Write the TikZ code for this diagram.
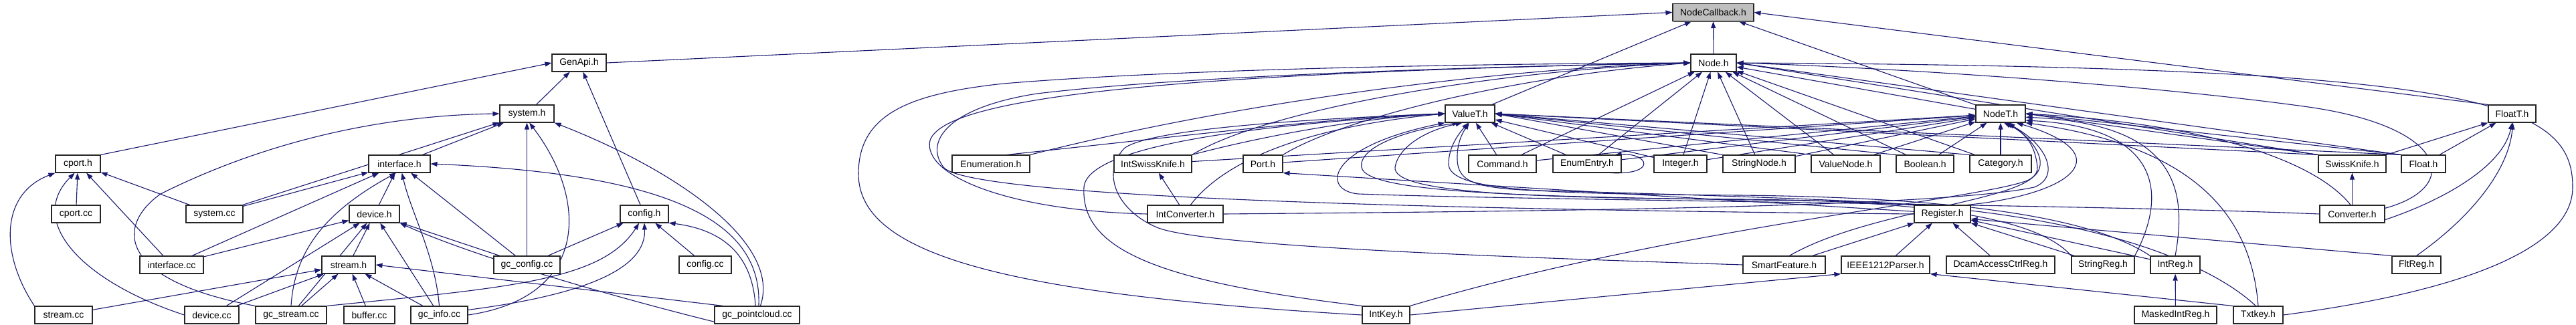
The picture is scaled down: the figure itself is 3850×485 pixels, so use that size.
\documentclass[tikz,border=0pt]{standalone}
\usepackage{fontspec}
\setmainfont{Liberation Sans}
\usetikzlibrary{arrows.meta,shadows}
\definecolor{edgec}{HTML}{191970}
\definecolor{rootfill}{HTML}{BFBFBF}
\pgfdeclarelayer{back}
\pgfdeclarelayer{bg}
\pgfsetlayers{back,bg,main}
\tikzset{
  box/.style={draw=black!85, line width=1.1pt, fill=white, minimum height=26pt, inner sep=0pt,
    font=\fontsize{14}{16}\selectfont,
    drop shadow={shadow xshift=1.4pt, shadow yshift=-1.4pt, fill=black!60, opacity=1}},
  dep/.style={draw=edgec, line width=1.1pt, -{Triangle[length=10pt,width=7pt]}},
}
\begin{document}
\begin{tikzpicture}[x=1pt,y=-1pt]
\begin{pgfonlayer}{back}
\fill[white] (0,0) rectangle (3850,485);
\end{pgfonlayer}
\useasboundingbox (0,0) rectangle (3850,485);
% row 0
\node[box, fill=rootfill, minimum width=121pt] (nodecallback) at (2560.5,18.5) {NodeCallback.h};
% row 1
\node[box, minimum width=81pt] (genapi) at (865.5,94) {GenApi.h};
\node[box, minimum width=68pt] (nodeh) at (2561,94) {Node.h};
% row 2
\node[box, minimum width=81pt] (systemh) at (787.5,170) {system.h};
\node[box, minimum width=74pt] (valueth) at (2197,170) {ValueT.h};
\node[box, minimum width=74pt] (nodeth) at (2990,170) {NodeT.h};
\node[box, minimum width=71pt] (floatth) at (3754.5,170) {FloatT.h};
% row 3
\node[box, minimum width=67pt] (cporth) at (116.5,245) {cport.h};
\node[box, minimum width=92pt] (interfaceh) at (597,245) {interface.h};
\node[box, minimum width=116pt] (enumeration) at (1481,245) {Enumeration.h};
\node[box, minimum width=116pt] (intswissknife) at (1723,245) {IntSwissKnife.h};
\node[box, minimum width=59pt] (porth) at (1887.5,245) {Port.h};
\node[box, minimum width=101pt] (commandh) at (2245.5,245) {Command.h};
\node[box, minimum width=102pt] (enumentry) at (2372,245) {EnumEntry.h};
\node[box, minimum width=79pt] (integer) at (2511.5,245) {Integer.h};
\node[box, minimum width=108pt] (stringnode) at (2629,245) {StringNode.h};
\node[box, minimum width=103pt] (valuenode) at (2758.5,245) {ValueNode.h};
\node[box, minimum width=86pt] (boolean) at (2877,245) {Boolean.h};
\node[box, minimum width=92pt] (category) at (2990,245) {Category.h};
\node[box, minimum width=101pt] (swissknife) at (3515.5,245) {SwissKnife.h};
\node[box, minimum width=66pt] (floath) at (3622,245) {Float.h};
% row 4
\node[box, minimum width=73pt] (cportcc) at (113.5,320) {cport.cc};
\node[box, minimum width=85pt] (systemcc) at (320.5,320) {system.cc};
\node[box, minimum width=75pt] (deviceh) at (559.5,320) {device.h};
\node[box, minimum width=72pt] (configh) at (963,320) {config.h};
\node[box, minimum width=113pt] (intconverter) at (1771.5,320) {IntConverter.h};
\node[box, minimum width=84pt] (register) at (2903,320) {Register.h};
\node[box, minimum width=97pt] (converter) at (3515.5,320) {Converter.h};
% row 5
\node[box, minimum width=95pt] (interfacecc) at (256.5,396) {interface.cc};
\node[box, minimum width=80pt] (streamh) at (521,396) {stream.h};
\node[box, minimum width=99pt] (gcconfig) at (787.5,396) {gc\_config.cc};
\node[box, minimum width=78pt] (configcc) at (1054,396) {config.cc};
\node[box, minimum width=123pt] (smartfeature) at (2666.5,396) {SmartFeature.h};
\node[box, minimum width=132pt] (ieee) at (2818,396) {IEEE1212Parser.h};
\node[box, minimum width=162pt] (dcam) at (2990,396) {DcamAccessCtrlReg.h};
\node[box, minimum width=94pt] (stringreg) at (3143,396) {StringReg.h};
\node[box, minimum width=74pt] (intreg) at (3251,396) {IntReg.h};
\node[box, minimum width=73pt] (fltreg) at (3611.5,396) {FltReg.h};
% row 6
\node[box, minimum width=86pt] (streamcc) at (95,471) {stream.cc};
\node[box, minimum width=81pt] (devicecc) at (316.5,471) {device.cc};
\node[box, minimum width=106pt] (gcstream) at (435,471) {gc\_stream.cc};
\node[box, minimum width=76pt] (buffercc) at (552,471) {buffer.cc};
\node[box, minimum width=85pt] (gcinfo) at (656.5,471) {gc\_info.cc};
\node[box, minimum width=127pt] (gcpc) at (1131.5,471) {gc\_pointcloud.cc};
\node[box, minimum width=71pt] (intkey) at (2071.5,471) {IntKey.h};
\node[box, minimum width=123pt] (maskedintreg) at (3251.5,471) {MaskedIntReg.h};
\node[box, minimum width=74pt] (txtkey) at (3375,471) {Txtkey.h};

\begin{pgfonlayer}{bg}
% ---------------- left part
\draw[dep] (genapi.east) -- (nodecallback.west);
\draw[dep] (systemh) -- (genapi);
\draw[dep] (cporth.north east) -- (genapi.west);
\draw[dep] (configh) -- (genapi);
\draw[dep] (interfaceh) -- (systemh);
\draw[dep] (systemcc) -- (systemh);
\draw[dep] (gcstream.north west) .. controls (180,420) and (170,340) .. (240,290) .. controls (420,200) and (600,172) .. (systemh.west);
\draw[dep] (gcconfig) -- (systemh);
\draw[dep] (gcinfo.east) .. controls (880,445) and (880,300) .. (systemh.-75);
\draw[dep] (gcpc.70) .. controls (1170,360) and (1000,250) .. (systemh.south east);
\draw[dep] (cportcc) -- (cporth);
\draw[dep] (systemcc) -- (cporth);
\draw[dep] (interfacecc) -- (cporth);
\draw[dep] (streamcc.north west) .. controls (0,380) and (0,290) .. (cporth.south west);
\draw[dep] (devicecc.west) .. controls (120,420) and (40,330) .. (cporth.-110);
\draw[dep] (systemcc) -- (interfaceh);
\draw[dep] (interfacecc) -- (interfaceh);
\draw[dep] (deviceh) -- (interfaceh);
\draw[dep] (gcstream.north) .. controls (440,380) and (480,320) .. (interfaceh.-110);
\draw[dep] (gcinfo.north) .. controls (650,380) and (615,320) .. (interfaceh.-75);
\draw[dep] (gcconfig) -- (interfaceh);
\draw[dep] (gcpc.80) .. controls (1140,330) and (1000,260) .. (interfaceh.east);
\draw[dep] (interfacecc) -- (deviceh);
\draw[dep] (streamh) -- (deviceh);
\draw[dep] (devicecc) -- (deviceh);
\draw[dep] (gcstream) -- (deviceh);
\draw[dep] (gcinfo) -- (deviceh);
\draw[dep] (gcconfig) -- (deviceh);
\draw[dep] (gcpc.195) .. controls (900,440) and (700,380) .. (deviceh.south east);
\draw[dep] (streamcc) -- (streamh);
\draw[dep] (devicecc) -- (streamh);
\draw[dep] (gcstream) -- (streamh);
\draw[dep] (buffercc) -- (streamh);
\draw[dep] (gcinfo) -- (streamh);
\draw[dep] (gcpc.165) -- (streamh.east);
\draw[dep] (gcconfig) -- (configh);
\draw[dep] (gcstream.north east) .. controls (760,430) and (900,420) .. (configh.-120);
\draw[dep] (gcinfo.10) .. controls (880,440) and (966,400) .. (configh.south);
\draw[dep] (configcc) -- (configh);
\draw[dep] (gcpc.100) .. controls (1125,390) and (1090,345) .. (configh.-20);
% ---------------- right part
\draw[dep] (nodeh) -- (nodecallback);
\draw[dep] (valueth) -- (nodecallback);
\draw[dep] (nodeth) -- (nodecallback);
\draw[dep] (floatth.north west) -- (nodecallback.east);
% Node.h
\draw[dep] (enumeration.north east) .. controls (1900,140) and (2300,100) .. (nodeh.west);
\draw[dep] (intswissknife.north east) .. controls (1900,160) and (2250,105) .. (nodeh.west);
\draw[dep] (porth.north east) .. controls (2000,180) and (2250,115) .. (nodeh.west);
\draw[dep] (commandh) -- (nodeh);
\draw[dep] (enumentry) -- (nodeh);
\draw[dep] (integer) -- (nodeh);
\draw[dep] (stringnode) -- (nodeh);
\draw[dep] (valuenode) -- (nodeh);
\draw[dep] (boolean) -- (nodeh);
\draw[dep] (category) -- (nodeh);
\draw[dep] (nodeth) -- (nodeh);
\draw[dep] (swissknife.north west) -- (nodeh.east);
\draw[dep] (floath.north west) -- (nodeh.east);
\draw[dep] (converter.10) .. controls (3680,280) and (3660,190) .. (3450,160) .. controls (3200,125) and (2800,100) .. (nodeh.east);
\draw[dep] (intconverter.west) .. controls (1500,315) and (1378,260) .. (1390,210) .. controls (1410,150) and (1700,110) .. (nodeh.west);
\draw[dep] (intkey.west) .. controls (1500,440) and (1283,380) .. (1283,260) .. controls (1283,170) and (1360,140) .. (1500,125) .. controls (1800,100) and (2300,95) .. (nodeh.west);
\draw[dep] (register.west) .. controls (2300,315) and (1450,300) .. (1410,250) .. controls (1380,210) and (1420,160) .. (1550,140) .. controls (1800,110) and (2300,98) .. (nodeh.west);
\draw[dep] (txtkey.east) .. controls (3650,440) and (3845,380) .. (3845,280) .. controls (3845,150) and (3700,100) .. (nodeh.east);
% ValueT.h
\draw[dep] (enumeration.30) .. controls (1800,200) and (2000,175) .. (valueth.west);
\draw[dep] (intswissknife.north east) .. controls (1900,200) and (2050,175) .. (valueth.west);
\draw[dep] (commandh) -- (valueth);
\draw[dep] (enumentry) -- (valueth);
\draw[dep] (integer) -- (valueth);
\draw[dep] (stringnode.north west) -- (valueth.east);
\draw[dep] (valuenode.north west) -- (valueth.east);
\draw[dep] (boolean.north west) -- (valueth.east);
\draw[dep] (category.north west) -- (valueth.east);
\draw[dep] (swissknife.north west) -- (valueth.east);
\draw[dep] (floath.north west) -- (valueth.east);
\draw[dep] (intconverter.60) .. controls (1830,240) and (1950,190) .. (valueth.west);
\draw[dep] (intkey.north west) .. controls (1720,420) and (1615,370) .. (1620,280) .. controls (1625,215) and (1900,185) .. (valueth.west);
\draw[dep] (smartfeature.west) .. controls (2300,386) and (1800,370) .. (1729,340) .. controls (1670,315) and (1645,260) .. (1680,222) .. controls (1720,190) and (2000,176) .. (valueth.west);
\draw[dep] (converter.west) .. controls (3100,305) and (2300,300) .. (2030,290) .. controls (1975,285) and (1980,220) .. (valueth.south west);
\draw[dep] (txtkey.105) .. controls (3300,390) and (3100,305) .. (2700,300) .. controls (2300,295) and (2040,290) .. (2035,250) .. controls (2030,220) and (2100,195) .. (valueth.-140);
\draw[dep] (stringreg.north west) .. controls (3050,330) and (2900,300) .. (2600,298) .. controls (2300,296) and (2080,290) .. (2085,250) .. controls (2090,220) and (2130,195) .. (valueth.-130);
\draw[dep] (intreg.north west) .. controls (3120,320) and (2900,295) .. (2600,292) .. controls (2300,290) and (2165,285) .. (2165,245) .. controls (2165,220) and (2180,200) .. (valueth.-100);
\draw[dep] (register.north west) .. controls (2800,300) and (2500,290) .. (2300,285) .. controls (2200,282) and (2180,270) .. (2178,240) .. controls (2177,215) and (2185,200) .. (valueth.-95);
% NodeT.h
\draw[dep] (intswissknife) -- (nodeth);
\draw[dep] (porth) -- (nodeth);
\draw[dep] (commandh) -- (nodeth);
\draw[dep] (enumentry) -- (nodeth);
\draw[dep] (integer) -- (nodeth);
\draw[dep] (stringnode) -- (nodeth);
\draw[dep] (valuenode) -- (nodeth);
\draw[dep] (boolean) -- (nodeth);
\draw[dep] (category) -- (nodeth);
\draw[dep] (swissknife.north west) -- (nodeth.east);
\draw[dep] (floath.north west) -- (nodeth.east);
\draw[dep] (converter.100) .. controls (3460,240) and (3300,185) .. (nodeth.east);
\draw[dep] (intconverter.east) .. controls (2300,316) and (2900,310) .. (3040,280) .. controls (3080,265) and (3060,215) .. (nodeth.-60);
\draw[dep] (intkey.north east) .. controls (2500,340) and (2950,300) .. (3030,270) .. controls (3070,250) and (3040,210) .. (nodeth.-50);
\draw[dep] (smartfeature.60) .. controls (2800,310) and (3050,300) .. (3045,250) .. controls (3042,220) and (3030,200) .. (nodeth.-70);
\draw[dep] (register.20) .. controls (3100,290) and (3170,230) .. (nodeth.-30);
\draw[dep] (stringreg.north east) .. controls (3240,290) and (3230,190) .. (nodeth.-15);
\draw[dep] (intreg.north) .. controls (3270,280) and (3250,185) .. (nodeth.-8);
\draw[dep] (txtkey.north) .. controls (3365,330) and (3290,220) .. (nodeth.-20);
% others
\draw[dep] (swissknife.north east) -- (floatth.south west);
\draw[dep] (floath) -- (floatth);
\draw[dep] (converter.-10) .. controls (3650,300) and (3740,250) .. (floatth.south);
\draw[dep] (fltreg.north) .. controls (3700,320) and (3750,250) .. (floatth.-85);
\draw[dep] (converter) -- (swissknife);
\draw[dep] (intconverter) -- (intswissknife);
\draw[dep] (register.175) -- (porth.south east);
\draw[dep] (smartfeature) -- (register);
\draw[dep] (ieee) -- (register);
\draw[dep] (dcam) -- (register);
\draw[dep] (stringreg) -- (register);
\draw[dep] (intreg) -- (register);
\draw[dep] (fltreg.north west) -- (register.-10);
\draw[dep] (intkey.east) -- (ieee.south west);
\draw[dep] (txtkey.north west) -- (ieee.south east);
\draw[dep] (maskedintreg) -- (intreg);
\draw[dep] ([xshift=-16pt]enumentry.south east) .. controls +(70,3) and +(50,-3) .. ([xshift=-10pt]enumentry.north east);
\end{pgfonlayer}
\end{tikzpicture}
\end{document}
